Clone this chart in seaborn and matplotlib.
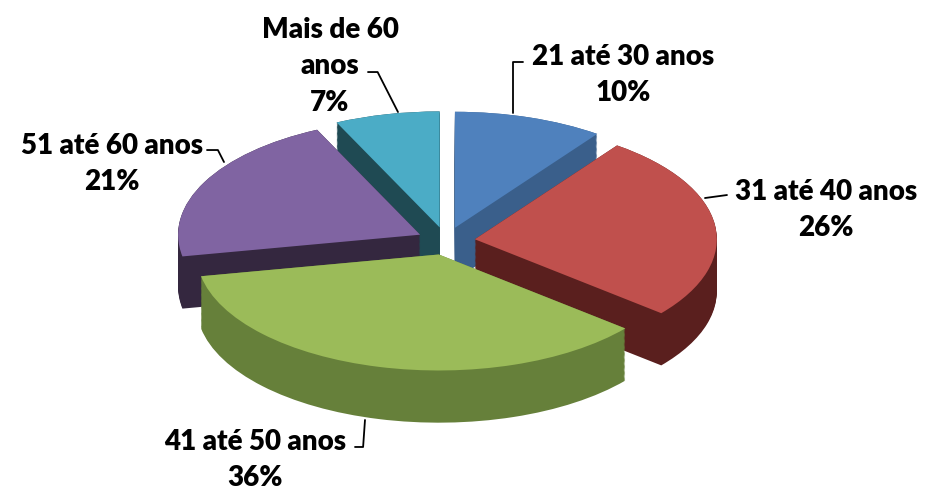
import numpy as np
import matplotlib.pyplot as plt
import seaborn as sns

# Distribuição por faixa etária
faixas = ["21 até 30 anos", "31 até 40 anos", "41 até 50 anos", "51 até 60 anos", "Mais de 60 anos"]
percentuais = [10, 26, 36, 21, 7]
rotulos = ["21 até 30 anos\n10%", "31 até 40 anos\n26%", "41 até 50 anos\n36%",
           "51 até 60 anos\n21%", "Mais de 60\nanos\n7%"]
cores_topo = ["#4F81BD", "#C0504D", "#9BBB59", "#8064A2", "#4BACC6"]
cores_lado = ["#3A5F8B", "#5A1F1E", "#66803A", "#34273F", "#1F4A53"]

sns.set_style("white")
plt.rcParams["font.family"] = ["Lato", "DejaVu Sans"]

fig = plt.figure(figsize=(9.29, 4.92), dpi=100)
ax = fig.add_axes([0, 0, 1, 1])

explodir = [0.12] * len(percentuais)
profundidade = 0.45

# lados (camadas escuras empilhadas), depois o topo
for d in np.linspace(profundidade, 0, 45):
    ax.pie(percentuais, colors=cores_lado, startangle=90, counterclock=False,
           explode=explodir, center=(0, -d), wedgeprops=dict(linewidth=0))
ax.pie(percentuais, colors=cores_topo, startangle=90, counterclock=False,
       explode=explodir, center=(0, 0), wedgeprops=dict(linewidth=0))

# achatar a pizza para dar perspectiva
ax.set_aspect("auto")
ax.set_xlim(-1.843, 1.996)
ax.set_ylim(-2.164, 2.078)
ax.axis("off")

# posições em pixels -> dados
def px(x, y):
    return ((x - 446) / 242, (241 - y) / 116)

textos = [(623, 75), (826, 210), (255, 460), (112, 164), (330, 66)]
inicios = [(523, 62), (727, 195), (355, 447), (207, 150), (368, 72)]
ancoras = [(513, 113), (705, 198), (365, 420), (224, 162), (398, 112)]
conexoes = ["angle,angleA=0,angleB=90,rad=0", "arc3,rad=0", "angle,angleA=0,angleB=86,rad=0",
            "angle,angleA=0,angleB=117,rad=0", "angle,angleA=0,angleB=117,rad=0"]

for rot, t, ini, anc, con in zip(rotulos, textos, inicios, ancoras, conexoes):
    ax.text(*px(*t), rot, ha="center", va="center", multialignment="center",
            fontsize=20, fontweight="heavy", linespacing=1.5, color="black")
    ax.annotate("", xy=px(*anc), xytext=px(*ini),
                arrowprops=dict(arrowstyle="-", connectionstyle=con, color="black",
                                lw=1.3, shrinkA=0, shrinkB=0))

fig.savefig("out.png", dpi=100)
